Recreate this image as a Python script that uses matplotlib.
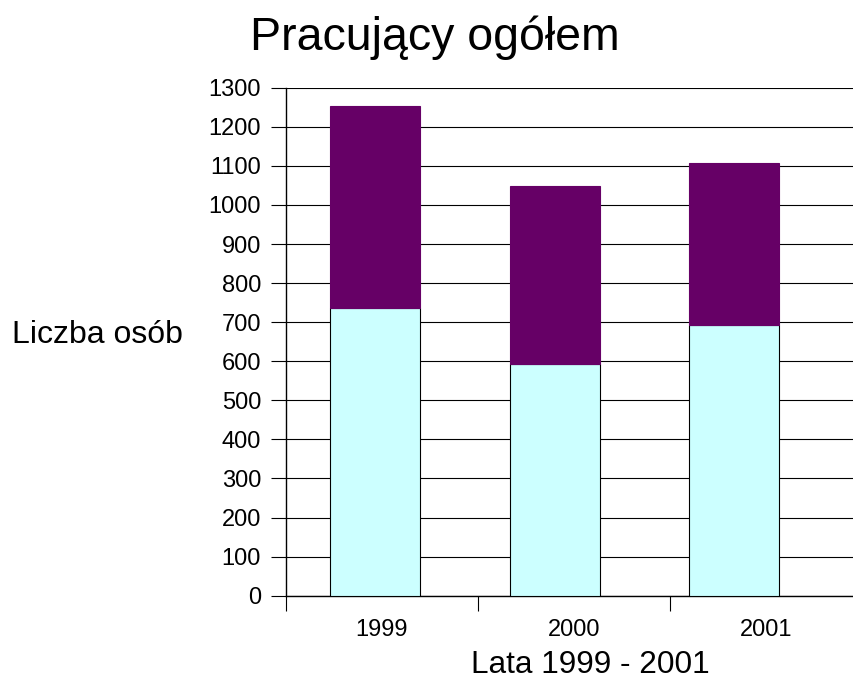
import numpy as np
import matplotlib.pyplot as plt

# dane
lata = ['1999', '2000', '2001']
dolne = [737, 593, 693]      # jasny segment
razem = [1253, 1048, 1107]   # wysokosc calego slupka
gorne = [r - d for r, d in zip(razem, dolne)]

plt.rcParams['font.family'] = ['Liberation Sans', 'DejaVu Sans']

fig = plt.figure(figsize=(8.54, 6.91), dpi=100)
ax = fig.add_axes([286/854, 95.3/691, 576/854, 508/691])

x = np.arange(len(lata))
xb = x * 0.934 - 0.034  # slupki lekko przesuniete wzgledem etykiet
szer = 90/192

ax.bar(xb, dolne, width=szer, color='#CCFFFF', edgecolor='black', linewidth=0.8, zorder=3)
ax.bar(xb, gorne, bottom=dolne, width=szer, color='#660066', edgecolor='#660066', linewidth=0.8, zorder=3)

ax.set_xlim(-0.5, 2.5)
ax.set_ylim(0, 1300)
ax.set_yticks(range(0, 1301, 100))
ax.yaxis.grid(True, color='black', linewidth=0.8, zorder=0)
ax.set_axisbelow(True)

ax.set_xticks([-0.5, 0.5, 1.5])
ax.set_xticklabels([])
ax.set_xticks(x, minor=True)
ax.set_xticklabels(lata, minor=True)
ax.tick_params(axis='x', which='minor', length=0, pad=17, labelsize=17)
ax.tick_params(axis='x', which='major', length=11, width=0.8, direction='out')
ax.tick_params(axis='y', length=11, width=0.8, direction='out', labelsize=17, pad=7)

for s in ['top', 'right']:
    ax.spines[s].set_visible(False)
ax.spines['left'].set_linewidth(1.0)
ax.spines['bottom'].set_linewidth(1.0)

fig.text(435/854, 1 - 38/691, 'Pracujący ogółem', ha='center', va='center', fontsize=33.5)
fig.text(97/854, 1 - 335/691, 'Liczba osób', ha='center', va='center', fontsize=23)
fig.text(590/854, 1 - 665/691, 'Lata 1999 - 2001', ha='center', va='center', fontsize=22.7)

fig.savefig('out.png', dpi=100)
